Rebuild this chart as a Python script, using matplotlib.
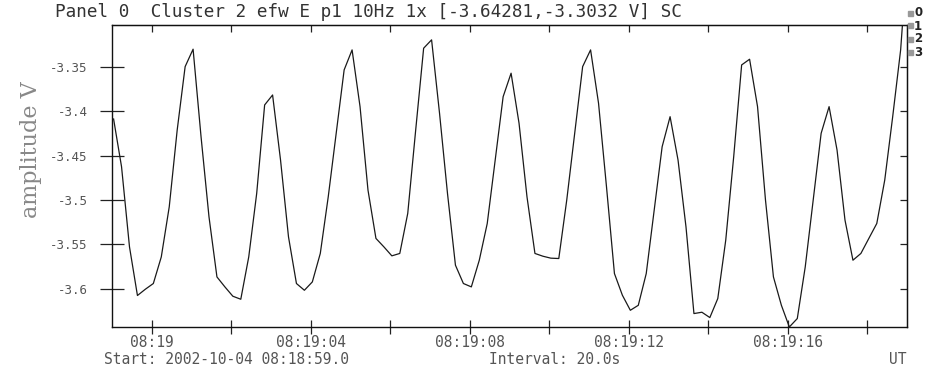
import numpy as np
import matplotlib
matplotlib.use("Agg")
import matplotlib.pyplot as plt

# samples every 0.2 s starting just after 08:18:59.0 (seconds since start)
t_start = 0.04
t_step = 0.2
amplitude = [
    -3.4089, -3.4626, -3.5527, -3.6074, -3.6003, -3.5939, -3.5640, -3.5077, -3.4213, -3.3500,
    -3.3304, -3.4288, -3.5189, -3.5865, -3.5977, -3.6082, -3.6116, -3.5640, -3.4926, -3.3931,
    -3.3819, -3.4551, -3.5414, -3.5939, -3.6015, -3.5921, -3.5601, -3.4964, -3.4250, -3.3537,
    -3.3312, -3.3950, -3.4889, -3.5432, -3.5527, -3.5628, -3.5601, -3.5151, -3.4213, -3.3293,
    -3.3199, -3.4025, -3.4926, -3.5733, -3.5939, -3.5977, -3.5677, -3.5264, -3.4551, -3.3838,
    -3.3574, -3.4137, -3.4964, -3.5601, -3.5632, -3.5654, -3.5658, -3.5001, -3.4250, -3.3500,
    -3.3312, -3.3912, -3.4851, -3.5827, -3.6071, -3.6240, -3.6184, -3.5827, -3.5114, -3.4401,
    -3.4063, -3.4551, -3.5302, -3.6277, -3.6262, -3.6322, -3.6108, -3.5452, -3.4514, -3.3481,
    -3.3417, -3.3950, -3.5001, -3.5865, -3.6184, -3.6428, -3.6333, -3.5752, -3.5001, -3.4250,
    -3.3950, -3.4438, -3.5226, -3.5677, -3.5601, -3.5432, -3.5264, -3.4776, -3.4063, -3.3312,
    -3.2073,
]
y_min, y_max = -3.64281, -3.3032
y_ticks = [-3.6, -3.55, -3.5, -3.45, -3.4, -3.35]
y_labels = ["-3.6", "-3.55", "-3.5", "-3.45", "-3.4", "-3.35"]
x_major = [1, 5, 9, 13, 17]
x_labels = ["08:19", "08:19:04", "08:19:08", "08:19:12", "08:19:16"]
x_minor = [3, 7, 11, 15, 19]
legend_items = ["0", "1", "2", "3"]

title = "Panel 0  Cluster 2 efw E p1 10Hz 1x [-3.64281,-3.3032 V] SC"
mono = "DejaVu Sans Mono"
grey = "#555555"

t = t_start + t_step * np.arange(len(amplitude))

W, H = 930, 369
fig = plt.figure(figsize=(W / 100, H / 100), dpi=100)
ax = fig.add_axes([112 / W, 1 - 327 / H, 795 / W, 302 / H])
ax.plot(t, amplitude, color="#1a1a1a", lw=0.9)
ax.set_xlim(0, 20)
ax.set_ylim(y_min, y_max)

for s in ax.spines.values():
    s.set_linewidth(1.0)
    s.set_color("#111111")

ax.set_xticks(x_major)
ax.set_xticklabels(x_labels, fontfamily=mono, fontsize=10.5, color=grey)
ax.set_xticks(x_minor, minor=True)
ax.tick_params(axis="x", which="both", direction="inout", length=10, width=0.9,
               color="#222222", pad=1)
ax.set_yticks(y_ticks)
ax.set_yticklabels(y_labels, fontfamily=mono, fontsize=9, color=grey)
ax.tick_params(axis="y", direction="inout", length=17, width=0.9,
               color="#222222", pad=9)

top = ax.secondary_xaxis("top")
top.set_xticks(x_major + x_minor)
top.set_xticklabels([])
top.tick_params(direction="in", length=5, width=0.9, color="#222222")
right = ax.secondary_yaxis("right")
right.set_yticks(y_ticks)
right.set_yticklabels([])
right.tick_params(direction="in", length=5, width=0.9, color="#222222")

fig.text(55 / W, 1 - 12 / H, title, fontfamily=mono, fontsize=12.7, color="#333333",
         ha="left", va="center")
fig.text(31 / W, 1 - 150 / H, "amplitude V", fontfamily="DejaVu Serif", fontsize=16,
         color="#888888", rotation=90, ha="center", va="center")
fig.text(226 / W, 1 - 360 / H, "Start: 2002-10-04 08:18:59.0", fontfamily=mono,
         fontsize=10.5, color=grey, ha="center", va="center")
fig.text(555 / W, 1 - 360 / H, "Interval: 20.0s", fontfamily=mono, fontsize=10.5,
         color=grey, ha="center", va="center")
fig.text(906 / W, 1 - 360 / H, "UT", fontfamily=mono, fontsize=10.5, color=grey,
         ha="right", va="center")

for i, lab in enumerate(legend_items):
    yy = 1 - (13 + 13 * i) / H
    fig.patches.append(plt.Rectangle((908 / W, yy - 2.5 / H), 5 / W, 5 / H,
                                     transform=fig.transFigure, color="#999999"))
    fig.text(914 / W, yy, lab, fontfamily="DejaVu Sans", fontsize=8.5, fontweight="bold",
             color="#222222", ha="left", va="center")

fig.savefig("out.png", dpi=100, facecolor="white")
